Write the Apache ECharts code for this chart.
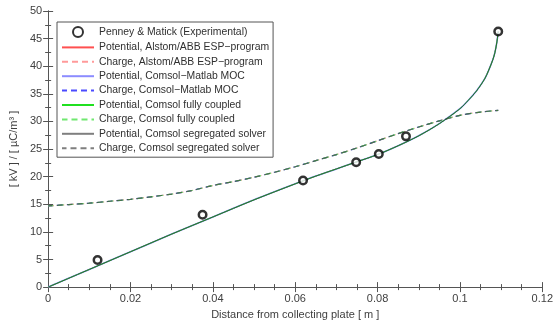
<!doctype html>
<html>
<head>
<meta charset="UTF-8">
<script src="https://cdn.jsdelivr.net/npm/echarts@6/dist/echarts.min.js"></script>
</head>
<body style="margin:0;background:#fff">
<div id="main" style="width:556px;height:325px"></div>
<script>
// experimental points (Penney & Matick)
var expX = [0.012, 0.0375, 0.0619, 0.0748, 0.0803, 0.0869, 0.1093];
var expY = [4.9, 13.1, 19.3, 22.6, 24.1, 27.3, 46.3];

// potential curve [kV]
var potX = [0, 0.01, 0.02, 0.03, 0.04, 0.05, 0.06, 0.065, 0.07, 0.075, 0.08, 0.085, 0.09, 0.095, 0.1, 0.102, 0.104, 0.106, 0.107, 0.108, 0.1085, 0.109, 0.1093];
var potY = [0, 3.2, 6.4, 9.6, 12.7, 15.8, 18.7, 20.1, 21.4, 22.7, 24.0, 25.6, 27.4, 29.6, 32.3, 33.8, 35.5, 37.7, 39.3, 41.2, 42.5, 44.5, 46.3];

// charge density curve [uC/m3]
var chgX = [0, 0.005, 0.01, 0.015, 0.02, 0.025, 0.03, 0.035, 0.04, 0.045, 0.05, 0.055, 0.06, 0.065, 0.07, 0.075, 0.08, 0.085, 0.09, 0.095, 0.1, 0.105, 0.1093];
var chgY = [14.7, 14.95, 15.2, 15.55, 15.9, 16.35, 16.85, 17.5, 18.4, 19.1, 19.9, 20.8, 21.8, 22.9, 24.0, 25.2, 26.5, 27.8, 29.0, 30.1, 31.1, 31.7, 32.0];

var xTicks = [0, 0.02, 0.04, 0.06, 0.08, 0.1, 0.12];

var names = [
    'Penney & Matick (Experimental)',
    'Potential, Alstom/ABB ESP\u2212program',
    'Charge, Alstom/ABB ESP\u2212program',
    'Potential, Comsol\u2212Matlab MOC',
    'Charge, Comsol\u2212Matlab MOC',
    'Potential, Comsol fully coupled',
    'Charge, Comsol fully coupled',
    'Potential, Comsol segregated solver',
    'Charge, Comsol segregated solver'
];

function pairs(xs, ys) { return xs.map(function (x, i) { return [x, ys[i]]; }); }

var pot = pairs(potX, potY);
var chg = pairs(chgX, chgY);

function line(name, data, color, dashed, width, offset, opacity) {
    return {
        name: name, type: 'line', data: data, showSymbol: false, symbol: 'none', smooth: 0.3,
        animation: false, z: 3,
        lineStyle: { color: color, width: width || 1, type: dashed ? [6, 4] : 'solid', dashOffset: offset || 0, opacity: opacity == null ? 1 : opacity },
        itemStyle: { color: color }
    };
}

var chart = echarts.init(document.getElementById('main'));
var labelFont = { color: '#404040', fontSize: 11, fontFamily: 'Liberation Sans, Arial, sans-serif' };
var axisBase = {
    type: 'value', min: 0,
    axisLine: { show: true, lineStyle: { color: '#555', width: 1 } },
    axisTick: { show: true, inside: true, length: 5, lineStyle: { color: '#555' } },
    minorTick: { show: true, length: 3, lineStyle: { color: '#555' } },
    splitLine: { show: false }
};

chart.setOption({
    animation: false,
    grid: { left: 42, right: 12, top: 11, bottom: 31 },
    xAxis: [
        Object.assign({}, axisBase, {
            position: 'bottom', max: 0.12, interval: 0.02,
            minorTick: Object.assign({}, axisBase.minorTick, { splitNumber: 4 }),
            axisLabel: Object.assign({ margin: 6, formatter: function (v) { return xTicks.indexOf(+v.toFixed(2)) >= 0 ? String(+v.toFixed(2)) : ''; } }, labelFont),
            name: 'Distance from collecting plate [ m ]', nameLocation: 'middle', nameGap: 19,
            nameTextStyle: labelFont
        }),
        Object.assign({}, axisBase, {
            position: 'top', max: 0.12, interval: 0.02,
            minorTick: Object.assign({}, axisBase.minorTick, { splitNumber: 4 }),
            axisLabel: { show: false }
        })
    ],
    yAxis: [
        Object.assign({}, axisBase, {
            position: 'left', max: 50, interval: 5,
            minorTick: Object.assign({}, axisBase.minorTick, { splitNumber: 2 }),
            axisLabel: Object.assign({ margin: 6 }, labelFont),
            name: '[ kV ] / [ µC/m³ ]', nameLocation: 'middle', nameGap: 23,
            nameTextStyle: labelFont
        }),
        Object.assign({}, axisBase, {
            position: 'right', max: 50, interval: 5,
            minorTick: Object.assign({}, axisBase.minorTick, { splitNumber: 2 }),
            axisLabel: { show: false }
        })
    ],
    legend: {
        orient: 'vertical', left: 57, top: 22, padding: [4, 4, 4, 4],
        itemWidth: 32, itemHeight: 10, itemGap: 4.4,
        borderColor: '#555', borderWidth: 1, backgroundColor: '#fff',
        textStyle: { color: '#303030', fontSize: 10.4, fontFamily: 'Liberation Sans, Arial, sans-serif' },
        data: names.map(function (n, i) {
            return i === 0 ? { name: n } : { name: n, itemStyle: { opacity: 0 } };
        })
    },
    series: [
        {
            name: names[0], type: 'scatter', data: pairs(expX, expY),
            symbol: 'circle', symbolSize: 7.5, z: 5,
            itemStyle: { color: '#fff', borderColor: '#000', borderWidth: 2.5 }
        },
        line(names[1], pot, '#ff5050', false, 1),
        line(names[2], chg, '#ff9a9a', true, 1.2, 0),
        line(names[3], pot, '#8c8cff', false, 1.6),
        line(names[4], chg, '#4a4aff', true, 1.2, 1),
        line(names[5], pot, '#20e020', false, 1),
        line(names[6], chg, '#70e870', true, 1.2, 0.5),
        line(names[7], pot, '#2a2a2a', false, 1, 0, 0.6),
        line(names[8], chg, '#2a2a2a', true, 1.2, 1.5, 0.6)
    ]
});
</script>
</body>
</html>
